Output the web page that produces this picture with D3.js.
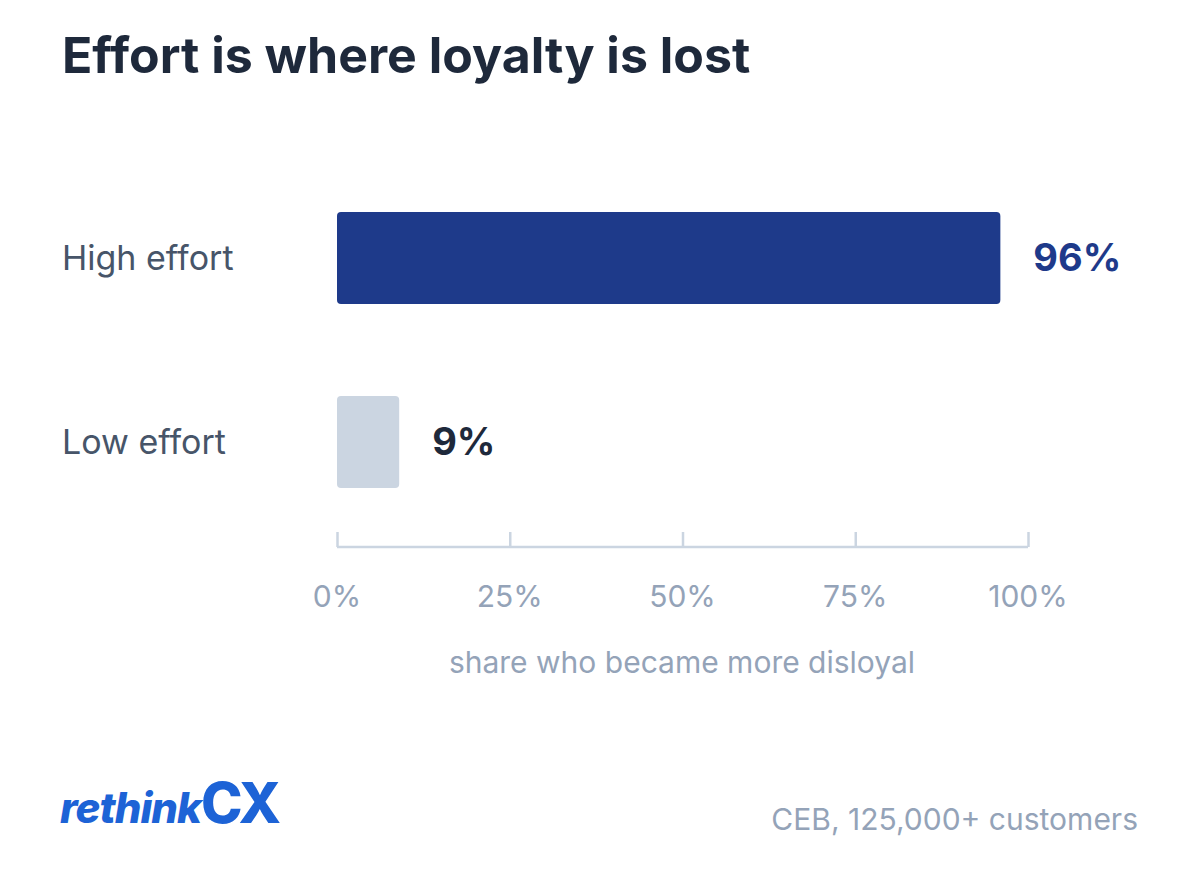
<!DOCTYPE html>
<html><head><meta charset="utf-8">
<script src="https://cdn.jsdelivr.net/npm/d3@7"></script>
<style>body{margin:0;background:#fff}svg{font-family:Inter,sans-serif}</style>
</head><body><svg id="c" width="1200" height="870"></svg>
<script>
const categories=["High effort","Low effort"];
const values=[96,9];
const valueLabels=["96%","9%"];
const tickValues=[0,25,50,75,100];
const tickLabels=["0%","25%","50%","75%","100%"];
const barColors=["#1e3a8a","#cbd5e1"];
const labelColors=["#1e3a8a","#1e293b"];

const svg=d3.select("#c");
const x=d3.scaleLinear().domain([0,100]).range([337,1028]);
const y=d3.scaleBand().domain(categories).range([166,534]).paddingInner(0.5).paddingOuter(0.25);

svg.append("text").attr("x",62).attr("y",73).attr("font-size",50).attr("font-weight",700).attr("fill","#1e293b").text("Effort is where loyalty is lost");

svg.selectAll("rect.bar").data(categories).join("rect").attr("class","bar")
 .attr("x",x(0)).attr("y",d=>y(d)).attr("height",y.bandwidth())
 .attr("width",(d,i)=>x(values[i])-x(0)).attr("rx",4).attr("fill",(d,i)=>barColors[i]);

svg.selectAll("text.cat").data(categories).join("text").attr("class","cat")
 .attr("x",62).attr("y",d=>y(d)+y.bandwidth()/2).attr("dy","0.35em")
 .attr("font-size",34).attr("fill","#475569").text(d=>d);

svg.selectAll("text.val").data(categories).join("text").attr("class","val")
 .attr("x",(d,i)=>x(values[i])+33).attr("y",d=>y(d)+y.bandwidth()/2).attr("dy","0.35em")
 .attr("font-size",38).attr("font-weight",700).attr("fill",(d,i)=>labelColors[i]).text((d,i)=>valueLabels[i]);

const ax=svg.append("g").attr("transform","translate(0,547)")
 .call(d3.axisTop(x).tickValues(tickValues).tickSize(15).tickFormat(""));
ax.selectAll("path,line").attr("stroke","#cbd5e1").attr("stroke-width",2.5);
ax.select("path").attr("d","M337,0H1028");
svg.selectAll("text.tick").data(tickValues).join("text").attr("class","tick")
 .attr("x",d=>x(d)).attr("y",607).attr("text-anchor","middle").attr("font-size",30).attr("fill","#94a3b8")
 .text((d,i)=>tickLabels[i]);
svg.append("text").attr("x",682).attr("y",673).attr("text-anchor","middle").attr("font-size",30).attr("fill","#94a3b8").text("share who became more disloyal");

const logo=svg.append("text").attr("x",60).attr("y",823).attr("fill","#1d63d6").attr("font-weight",800).attr("font-style","italic");
logo.append("tspan").attr("font-size",42).attr("letter-spacing",-1).text("rethink");
logo.append("tspan").attr("font-size",56).attr("font-style","normal").attr("letter-spacing",-3).text("CX");
svg.append("text").attr("x",1138).attr("y",830).attr("text-anchor","end").attr("font-size",30).attr("fill","#94a3b8").text("CEB, 125,000+ customers");
</script></body></html>
